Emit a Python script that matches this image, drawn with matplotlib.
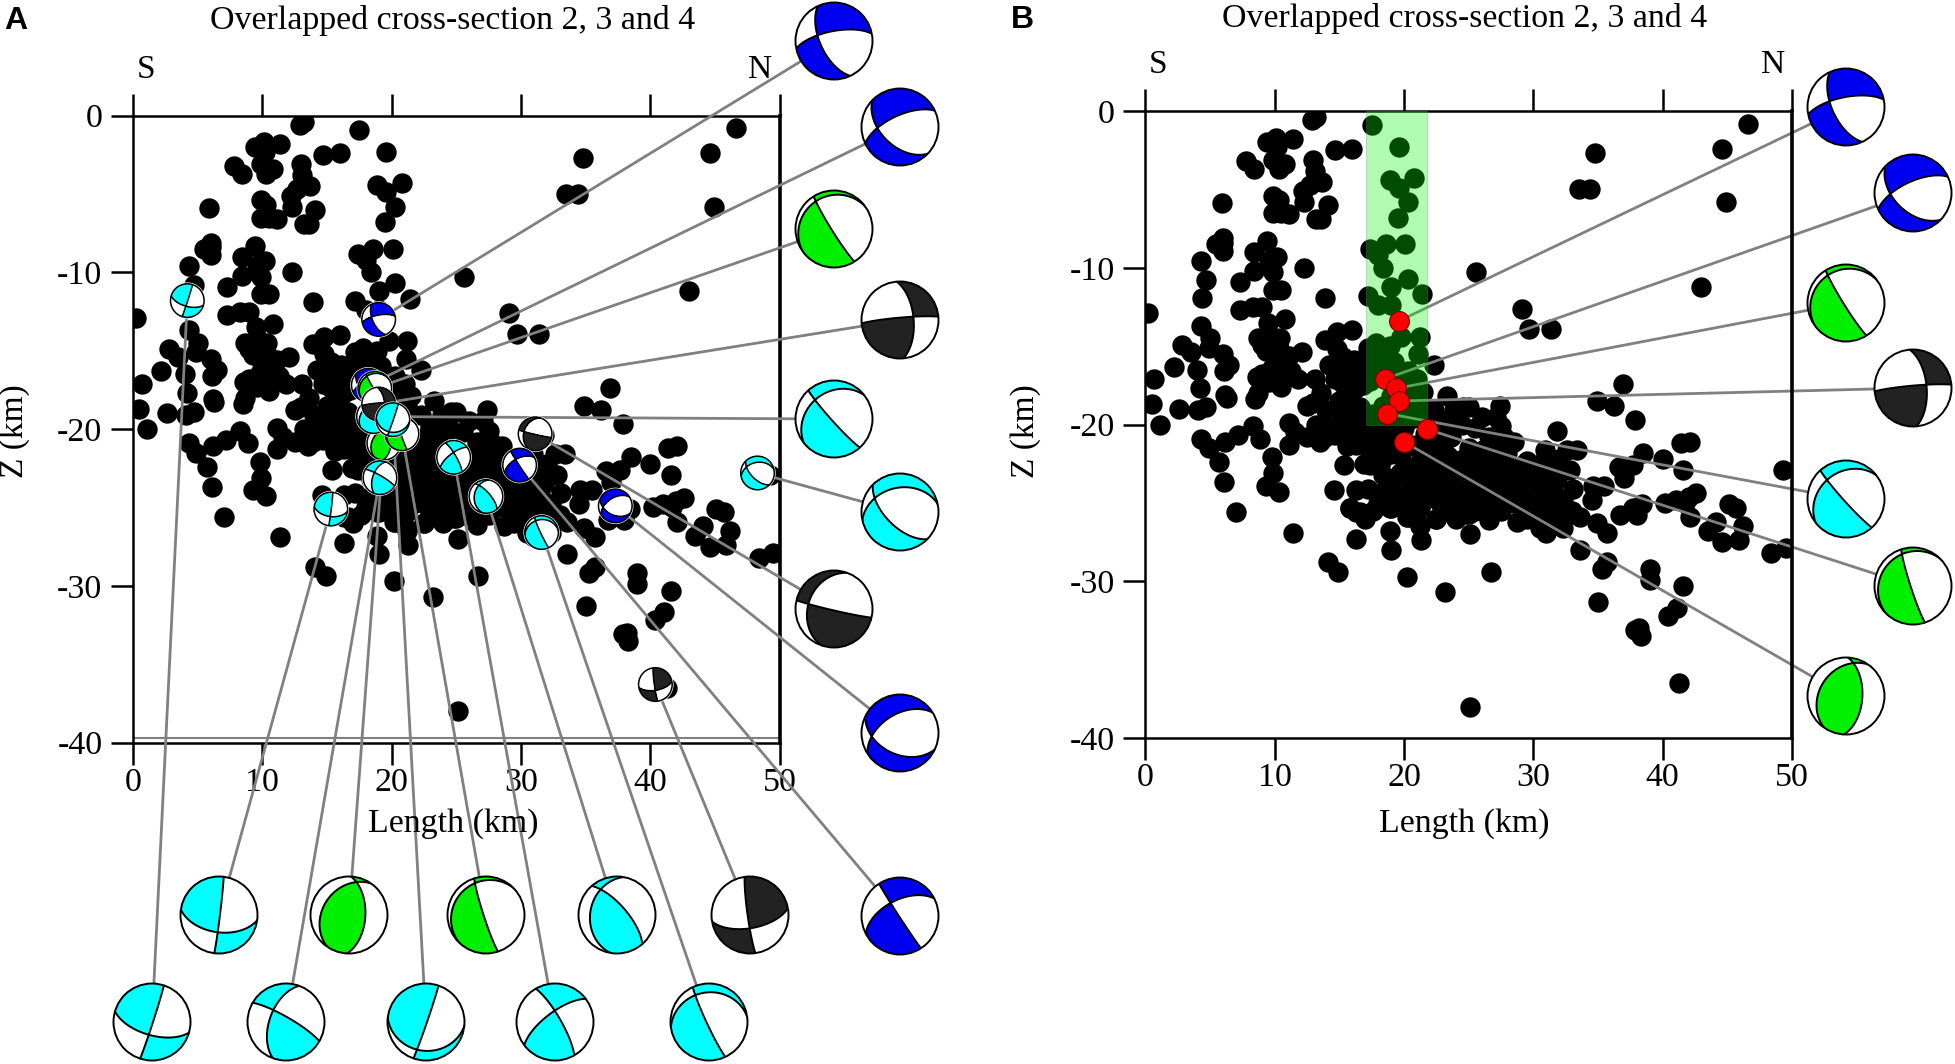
import numpy as np
import matplotlib
matplotlib.use("Agg")
import matplotlib.pyplot as plt
from matplotlib.patches import Circle, Rectangle

plt.rcParams['font.family'] = ['Liberation Serif', 'DejaVu Serif']

# earthquakes, (length km, z km)
west_events = [
    (12.9,-0.6),(13.2,-0.4),(17.5,-0.9),(19.6,-2.3),(14.7,-2.5),(16.0,-2.4),(10.1,-1.7),(9.4,-2.0),(11.4,-1.8),(10.2,-2.3),
    (7.8,-3.2),(8.4,-3.7),(9.9,-3.1),(10.3,-3.7),(10.8,-3.4),(13.0,-3.1),(13.1,-3.8),(13.7,-4.5),(12.7,-4.7),(12.2,-5.1),
    (12.3,-5.8),(9.9,-5.4),(10.3,-5.7),(9.9,-6.5),(11.1,-6.6),(10.5,-6.5),(14.1,-6.0),(5.9,-5.9),(13.2,-6.9),(13.6,-6.9),
    (18.9,-4.4),(20.8,-4.3),(19.6,-4.9),(20.3,-5.8),(19.5,-6.8),(18.6,-8.5),(20.1,-8.5),(17.4,-8.8),(18.0,-9.2),(18.4,-10.0),
    (20.3,-10.7),(19.0,-11.2),(21.4,-11.7),(17.2,-11.8),(18.0,-12.4),(19.0,-12.4),(6.0,-8.1),(5.5,-8.5),(6.0,-8.4),(6.0,-8.9),
    (4.3,-9.6),(4.7,-10.8),(4.4,-11.9),(9.4,-8.3),(8.4,-9.0),(10.2,-9.3),(9.6,-9.5),(8.4,-10.2),(7.3,-10.9),(9.9,-10.3),
    (9.9,-11.4),(10.5,-11.4),(12.3,-10.0),(13.9,-11.9),(7.3,-12.7),(8.3,-12.5),(9.0,-12.5),(0.2,-12.9),
    (4.3,-13.7),(5.0,-14.5),(4.9,-15.1),(6.0,-15.5),(6.5,-16.2),(6.1,-16.6),(2.8,-14.9),(3.5,-15.4),(2.2,-16.3),(4.0,-16.5),
    (0.7,-17.1),(4.2,-17.7),(6.2,-18.1),(6.3,-18.3),(0.5,-18.7),(1.1,-20.0),(2.6,-19.0),(4.1,-19.1),(4.7,-18.9),(4.3,-20.9),
    (4.9,-21.5),(5.7,-22.4),(6.1,-23.7),(7.0,-25.6),(6.2,-21.1),(7.2,-20.7),(8.3,-20.1),(8.9,-20.9),
]
central_events = [
    (9.5,-13.5),(10.8,-13.3),(8.7,-14.5),(9.6,-14.2),(10.4,-14.5),(9.3,-15.3),(10.3,-15.1),(11.1,-15.6),(12.1,-15.4),(9.8,-14.8),
    (8.6,-17.0),(9.8,-16.4),(9.6,-17.3),(10.5,-17.6),(10.8,-16.8),(11.8,-17.1),(13.1,-17.1),(13.6,-18.0),(8.5,-18.4),(8.7,-18.0),
    (12.5,-18.8),(13.0,-18.6),(14.0,-19.1),(11.1,-19.9),(11.6,-20.5),(11.1,-21.3),(12.5,-20.8),(13.5,-21.1),(13.2,-20.0),(14.3,-20.2),
    (13.9,-20.8),(15.7,-20.2),(9.8,-22.1),(9.9,-23.1),(9.3,-23.9),(10.3,-24.3),(14.6,-24.2),(16.3,-24.2),(17.2,-24.1),(15.8,-25.3),
    (13.9,-14.6),(14.8,-14.1),(16.0,-14.0),(14.2,-16.2),(15.3,-15.7),(15.6,-16.5),(15.3,-17.4),(15.7,-18.2),(15.8,-19.0),(16.1,-15.9),
    (16.3,-16.7),(16.3,-17.7),(16.6,-18.9),(16.3,-19.7),(17.8,-14.8),(17.2,-15.1),(18.9,-15.0),(19.8,-14.4),(21.2,-14.4),(21.1,-15.5),
    (17.9,-15.9),(19.2,-16.0),(17.9,-16.9),(19.2,-17.0),(20.3,-16.6),(21.0,-17.1),(18.4,-18.8),(21.2,-17.8),(20.7,-18.8),(17.6,-19.3),
    (17.4,-17.2),(17.4,-16.4),(20.2,-19.3),(19.0,-18.2),(21.2,-19.5),(16.9,-20.9),(15.6,-21.4),(15.4,-22.6),(16.9,-22.5),(18.1,-21.4),
    (17.4,-21.7),(18.7,-21.2),(19.8,-22.0),(18.4,-23.2),(19.7,-23.1),(20.7,-22.9),(21.8,-23.1),(19.7,-24.6),(18.9,-25.3),(17.6,-25.5),
    (16.6,-25.6),(20.3,-25.7),(21.2,-25.2),(20.5,-23.7),(11.4,-26.9),(15.8,-25.3),(17.0,-26.0),(16.3,-25.6),(19.0,-25.3),(16.3,-27.3),
    (18.9,-26.8),(19.0,-28.0),(14.1,-28.8),(14.9,-29.4),(20.2,-29.7),(23.2,-30.7),(21.3,-27.4),(21.2,-26.4),(20.3,-25.9),(22.5,-26.0),
    (25.1,-27.0),(26.6,-26.1),(24.8,-25.7),(26.7,-29.4),(22.3,-16.2),(21.5,-17.9),
    (9.0,-14.9),(10.0,-15.8),(10.8,-16.2),(9.0,-16.8),(10.1,-17.0),(11.3,-16.6),(14.8,-15.2),(15.0,-16.3),(14.7,-17.1),(15.0,-18.5),
    (15.2,-19.4),(16.0,-18.6),(16.8,-17.5),(16.9,-16.0),(16.8,-19.8),(15.2,-20.4),(14.7,-20.7),(17.6,-15.5),(18.3,-15.4),(18.5,-16.4),
    (18.8,-16.5),(20.0,-17.4),(20.4,-17.9),(19.5,-19.0),(20.8,-19.6),(18.2,-19.9),(19.2,-19.8),(21.2,-18.5),(17.0,-20.2),(18.0,-20.4),
    (19.0,-20.4),(20.0,-20.2),(16.3,-21.3),(17.4,-22.6),(18.2,-22.4),(19.0,-21.9),(20.6,-21.3),(21.6,-20.6),(22.8,-20.3),(21.2,-22.4),
    (22.5,-22.7),(23.4,-22.0),(24.0,-20.0),(23.0,-19.8),(18.5,-24.2),(19.0,-24.0),(18.0,-25.0),(19.9,-25.1),(20.5,-24.8),(21.8,-24.7),(22.8,-23.2),
]
east_events = [
    (25.6,-10.3),(29.1,-12.6),(29.7,-13.9),(31.4,-13.9),(34.8,-2.7),(33.5,-5.0),(34.4,-5.0),(46.6,-0.8),(44.6,-2.4),(44.9,-5.8),(43.0,-11.2),
    (36.9,-17.4),(34.9,-18.5),(36.2,-18.8),(37.9,-19.7),(27.4,-18.8),(27.1,-19.5),(27.5,-20.1),(23.3,-18.2),(25.0,-18.9),(23.9,-19.1),
    (22.3,-19.1),(24.6,-18.9),(31.8,-20.4),(30.9,-21.6),(32.6,-21.6),(33.4,-21.6),(28.5,-21.1),(26.6,-20.8),(27.7,-20.8),(25.0,-21.5),
    (24.6,-22.2),(25.7,-21.8),(29.2,-22.6),(30.5,-22.5),(32.8,-22.9),(32.0,-22.2),(36.6,-22.7),(37.7,-22.6),(38.5,-21.8),(40.0,-22.2),
    (37.0,-23.4),(41.4,-21.2),(42.1,-21.1),(41.6,-22.9),(49.3,-22.9),(49.5,-27.9),(48.4,-28.2),(34.6,-23.9),(35.5,-23.9),(33.1,-24.1),
    (34.5,-24.8),(38.4,-25.1),(37.7,-25.3),(38.0,-25.8),(36.7,-25.8),(40.2,-25.0),(41.0,-24.8),(42.6,-24.4),(42.0,-24.6),(41.7,-25.0),
    (42.1,-25.9),(45.1,-25.1),(45.7,-25.3),(44.1,-26.2),(43.5,-26.8),(46.2,-26.5),(45.9,-27.4),(44.6,-27.5),(33.6,-28.0),(35.7,-28.8),
    (35.3,-29.2),(39.0,-29.2),(39.0,-29.9),(41.6,-30.3),(41.1,-31.7),(40.4,-32.2),(35.0,-31.3),(38.2,-33.0),(37.9,-33.1),(38.3,-33.5),
    (41.3,-36.5),(25.1,-38.0),(25.0,-25.7),(28.7,-26.2),(30.5,-26.6),(31.0,-26.9),(32.3,-26.6),(34.9,-26.3),(35.7,-26.9),(33.6,-25.9),
    (33.0,-25.5),(31.2,-25.8),(30.0,-25.6),(28.5,-25.0),(26.6,-25.6),(25.9,-25.0),(24.3,-25.5),(22.5,-26.0),(21.2,-26.5),(20.2,-25.9),
    (21.2,-25.3),(22.8,-25.0),(23.6,-24.6),(22.0,-24.4),(20.7,-23.9),(22.3,-23.3),(23.8,-23.5),(24.8,-22.9),(25.4,-23.7),(26.4,-23.5),
    (27.4,-22.7),(28.2,-23.3),(29.5,-23.5),(29.0,-24.2),(30.5,-24.2),(31.8,-23.5),(32.3,-24.8),(30.3,-25.0),(27.4,-24.4),(26.1,-24.3),
    (24.6,-24.2),(23.0,-24.1),(21.2,-23.5),(23.0,-21.4),(22.3,-22.0),(21.2,-21.6),(23.6,-20.8),(26.1,-21.6),(26.3,-22.7),(28.0,-21.8),
    (28.5,-22.7),(27.1,-21.6),(31.4,-22.7),(31.0,-23.5),(22.3,-21.0),(24.5,-20.0),(25.5,-20.2),(26.0,-19.5),
    (24.0,-23.0),(25.0,-24.6),(25.5,-22.5),(26.8,-22.0),(27.0,-23.0),(27.8,-24.0),(28.0,-24.8),(28.8,-23.0),(29.5,-22.3),(29.7,-24.8),
    (30.0,-23.0),(30.8,-24.8),(31.3,-25.0),(31.5,-24.2),(32.0,-25.3),(32.6,-25.8),(29.3,-25.5),(29.5,-26.0),(31.0,-26.0),(28.0,-22.3),
    (26.8,-24.9),(25.5,-25.5),(24.0,-26.0),(23.2,-25.5),(27.5,-25.5),
]

red_x = [19.6, 18.5, 19.4, 19.6, 18.7, 21.8, 20.0]
red_z = [-13.4, -17.1, -17.7, -18.5, -19.3, -20.3, -21.1]

# focal mechanisms: two nodal planes and the azimuth of a filled quadrant
mech_names = ['blue1','blue2','green1','black1','cyan1','cyan2','black2','blue3','blue4',
              'cyan3','green2','green3','cyan4','black3','cyan5','cyan6','cyan7','cyan8','cyan9']
strike1 = [155,134,148,355,138,135,200,238,147, 7,3,162,319,172, 18,200,19,330,155]
dip1    = [61,50,85,61,85,60,33,50,88, 88,55,85,70,85, 88,55,88,78,85]
strike2 = [259,245,235,265,232,258,103,115,243, 98,215,225,190,80, 106,300,96,233,262]
dip2    = [69,66,15,85,31,37,87,44,56, 53,32,15,31,62, 62,80,26,70,24]
fill_az = [30,20,210,45,220,215,180,350,30, 315,200,225,190,45, 315,330,315,15,225]

colours = {'blue': '#0000F0', 'green': '#00F000', 'cyan': '#00FFFF', 'black': '#222222'}

# small beach balls in panel A, position in km
small_x = [19.0,18.2,18.7,19.0,18.6,48.3,31.1,37.3,29.9, 15.3,19.4,20.8,27.3,40.4, 4.2,19.1,20.1,24.8,31.6]
small_z = [-13.0,-17.2,-17.4,-18.4,-19.2,-22.8,-20.3,-24.9,-22.3, -25.1,-20.9,-20.3,-24.3,-36.3, -11.8,-23.1,-19.4,-21.8,-26.6]
small_order = [1,2,10,11,4,3,0,16,15,5,6,7,8,9,12,13,14,17,18]

# big beach balls, position in image pixels
big_a_x = [834,900,834,900,834,900,834,900,900, 219,349,486,617,750, 152,286,426,555,709]
big_a_y = [41,127,229,320,419,512,609,733,916, 915,915,915,915,915, 1022,1022,1022,1022,1022]
big_b_x = [1846,1913,1846,1913,1846,1913,1846]
big_b_y = [107,193,303,388,499,586,696]
big_b_mech = [0,1,2,3,4,11,10]

xticks = [0,10,20,30,40,50]
yticks = [0,-10,-20,-30,-40]
yticklabels = ['0','-10','-20','-30','-40']

W, H = 1955, 1064
fig = plt.figure(figsize=(W/100, H/100), dpi=100)


def make_axes(left, right, top, bottom):
    ax = fig.add_axes([left/W, 1-bottom/H, (right-left)/W, (bottom-top)/H])
    ax.set_xlim(0, 50)
    ax.set_ylim(-40, 0)
    ax.set_xticks(xticks)
    ax.set_yticks(yticks)
    ax.set_yticklabels(yticklabels)
    ax.tick_params(axis='both', length=16, width=1.8, labelsize=24.5, direction='out', top=True)
    ax.tick_params(axis='x', pad=2)
    ax.tick_params(axis='y', pad=6)
    for s in ['left', 'top', 'bottom']:
        ax.spines[s].set_linewidth(1.8)
    ax.spines['right'].set_linewidth(2.6)
    ax.set_facecolor('none')
    return ax


ax_a = make_axes(133, 779.5, 115.7, 742.5)
ax_b = make_axes(1145.3, 1792, 111, 738)
over = fig.add_axes([0, 0, 1, 1], zorder=5)
over.set_xlim(0, W)
over.set_ylim(H, 0)
over.axis('off')
over.patch.set_alpha(0)

events = west_events + central_events + east_events
ev_x = [e[0] for e in events]
ev_z = [e[1] for e in events]
for ax in [ax_a, ax_b]:
    ax.scatter(ev_x, ev_z, s=215, c='black', linewidths=0, zorder=1)


def plane_normal(strike, dip):
    dd = np.radians(strike+90)
    d = np.radians(dip)
    return np.array([-np.sin(d)*np.sin(dd), -np.sin(d)*np.cos(dd), np.cos(d)])


def ball(cx, cy, r, i, lw):
    n1 = plane_normal(strike1[i], dip1[i])
    n2 = plane_normal(strike2[i], dip2[i])
    g = np.linspace(-1.02, 1.02, 241)
    u, v = np.meshgrid(g, g)
    rho = np.maximum(np.hypot(u, v), 1e-6)
    col = 2*np.arcsin(np.minimum(rho/np.sqrt(2), 1))
    nx, ny, nz = np.sin(col)*u/rho, np.sin(col)*v/rho, np.cos(col)
    f1 = nx*n1[0] + ny*n1[1] + nz*n1[2]
    f2 = nx*n2[0] + ny*n2[1] + nz*n2[2]
    # which sign is the filled one
    az = np.radians(fill_az[i])
    c0 = 2*np.arcsin(0.7/np.sqrt(2))
    p = np.array([np.sin(c0)*np.sin(az), np.sin(c0)*np.cos(az), np.cos(c0)])
    sgn = np.sign(p.dot(n1)*p.dot(n2))
    X, Y = cx+r*u, cy-r*v
    colour = colours[mech_names[i].rstrip('0123456789')]
    disc = Circle((cx, cy), r, fc='white', ec='none', zorder=3)
    over.add_patch(disc)
    cf = over.contourf(X, Y, sgn*f1*f2, levels=[0, 10], colors=[colour], zorder=3)
    cf.set_clip_path(disc)
    for f in [f1, f2]:
        cs = over.contour(X, Y, f, levels=[0], colors='black', linewidths=lw, zorder=3)
        cs.set_clip_path(disc)
    over.add_patch(Circle((cx, cy), r, fc='none', ec='black', lw=lw, zorder=3))


def to_px(ax, x, z):
    d = ax.transData.transform((x, z))
    return d[0], H-d[1]


# panel A
ax_a.plot([0, 50], [-39.7, -39.7], color='#808080', lw=1.5, zorder=2)
for i in range(len(mech_names)):
    sx, sy = to_px(ax_a, small_x[i], small_z[i])
    over.plot([sx, big_a_x[i]], [sy, big_a_y[i]], color='#808080', lw=2, zorder=2, solid_capstyle='butt')
for i in range(len(mech_names)):
    ball(big_a_x[i], big_a_y[i], 38.5, i, 1.4)
for n, i in enumerate(small_order):
    sx, sy = to_px(ax_a, small_x[i], small_z[i])
    # keep later balls on top of earlier ones
    over.add_patch(Circle((sx, sy), 18.2, fc='white', ec='none', zorder=3))
    ball(sx, sy, 16.8, i, 1.1)

# panel B: lines go under the green band, the red dots above it
for k, i in enumerate(big_b_mech):
    sx, sy = to_px(ax_b, red_x[k], red_z[k])
    ax_b.plot([sx, big_b_x[k]], [sy, big_b_y[k]], color='#808080', lw=2, zorder=2,
              transform=over.transData, clip_on=False, solid_capstyle='butt')
ax_b.add_patch(Rectangle((17.1, -20), 4.7, 20, fc='#00F800', alpha=0.31, ec='#808080', lw=0.8, zorder=3))
ax_b.scatter(red_x, red_z, s=205, c='#FF0000', edgecolors='#7A0000', linewidths=0.8, zorder=4)
for k, i in enumerate(big_b_mech):
    ball(big_b_x[k], big_b_y[k], 38.5, i, 1.4)

# texts
title = 'Overlapped cross-section 2, 3 and 4'
for cx, tx_y, ly_x, sx, nx_, sn_y, ll_x in [(453, 20, 15, 146, 760, 70, 453), (1465, 19, 1026, 1158, 1773, 65, 1464)]:
    over.text(cx, tx_y, title, fontsize=24.4, ha='center', va='center')
    over.text(ll_x, 824, 'Length (km)', fontsize=24.4, ha='center', va='center')
    over.text(ly_x, 431, 'Z (km)', fontsize=24, rotation=90, ha='center', va='center')
    over.text(sx, sn_y, 'S', fontsize=24, ha='center', va='center')
    over.text(nx_, sn_y, 'N', fontsize=24, ha='center', va='center')
over.text(16, 21, 'A', fontsize=23, fontweight='bold', family='Liberation Sans', ha='center', va='center')
over.text(1022, 20, 'B', fontsize=23, fontweight='bold', family='Liberation Sans', ha='center', va='center')

fig.savefig('out.png', dpi=100)
